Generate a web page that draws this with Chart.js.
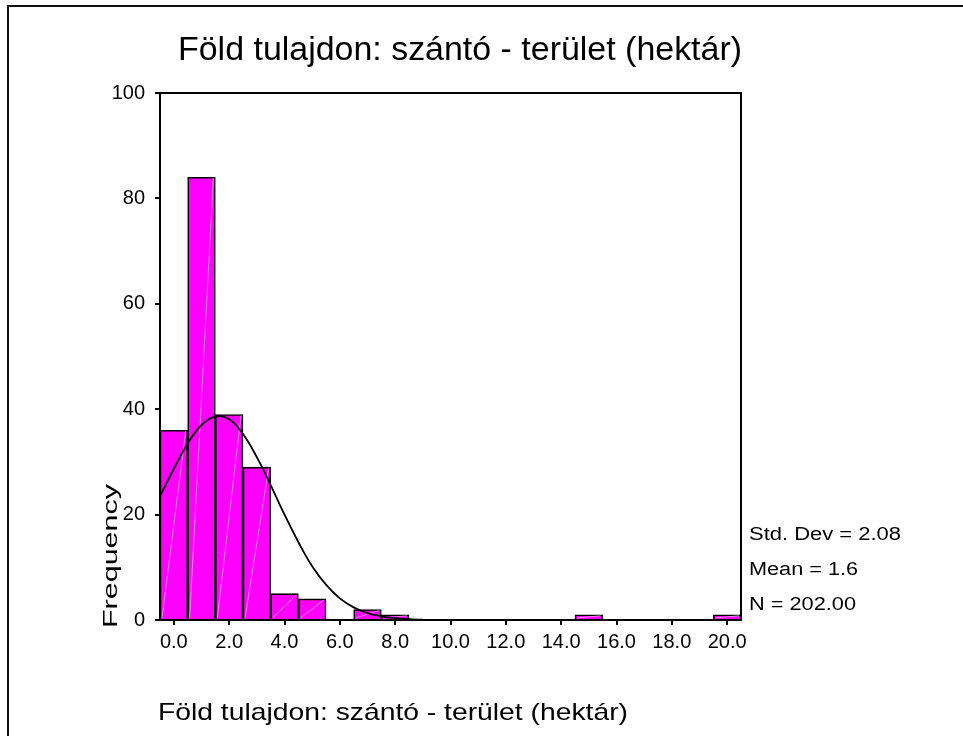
<!DOCTYPE html>
<html>
<head>
<meta charset="utf-8">
<script src="https://cdn.jsdelivr.net/npm/chart.js@4.4.1/dist/chart.umd.min.js"></script>
<style>
    html, body { margin: 0; padding: 0; background: #fff; }
    canvas { display: block; }
</style>
</head>
<body>
<canvas id="histChart" width="963" height="736"></canvas>
<script>
const TITLE = 'Föld tulajdon: szántó - terület (hektár)';
const X_TITLE = 'Föld tulajdon: szántó - terület (hektár)';
const Y_TITLE = 'Frequency';
const STATS = ['Std. Dev = 2.08', 'Mean = 1.6', 'N = 202.00'];

// bin centres (width 1.0) and counts
const binCenters = [0, 1, 2, 3, 4, 5, 7, 8, 15, 20];
const frequencies = [36, 84, 39, 29, 5, 4, 2, 1, 1, 1];

// normal curve
const curveX = [-0.5, 0, 0.5, 1, 1.5, 2, 2.5, 3, 3.5, 4, 4.5, 5, 5.5, 6, 6.5, 7, 7.5, 8, 8.5, 9];
const curveY = [23.5, 28.7, 33.5, 37.0, 38.6, 38.1, 35.3, 30.9, 25.6, 20.0, 14.8, 10.2, 6.7, 4.1, 2.4, 1.3, 0.7, 0.35, 0.15, 0.05];

const xTicks = [0, 2, 4, 6, 8, 10, 12, 14, 16, 18, 20];
const yTicks = [0, 20, 40, 60, 80, 100];

const FONT = '"Liberation Sans", Arial, sans-serif';

// draws text squeezed/stretched to a given width (the source export is not 1:1)
function fitText(ctx, text, x, y, width, align) {
    const w = ctx.measureText(text).width;
    const sx = width / w;
    ctx.save();
    ctx.translate(x, y);
    ctx.scale(sx, 1);
    ctx.textAlign = 'left';
    ctx.fillText(text, align === 'center' ? -w / 2 : 0, 0);
    ctx.restore();
}

const framePlugin = {
    id: 'frame',
    beforeDraw(chart) {
        const ctx = chart.ctx;
        ctx.save();
        ctx.fillStyle = '#fff';
        ctx.fillRect(0, 0, chart.width, chart.height);
        ctx.strokeStyle = '#111';
        ctx.lineWidth = 2;
        ctx.beginPath();
        ctx.moveTo(8, chart.height);
        ctx.lineTo(8, 6);
        ctx.lineTo(chart.width, 6);
        ctx.stroke();
        ctx.restore();
    },
    afterDatasetDraw(chart, args) {
        if (args.index !== 0) return;
        // faint white diagonal inside each bar
        const ctx = chart.ctx;
        ctx.save();
        ctx.strokeStyle = 'rgba(255,255,255,0.5)';
        ctx.lineWidth = 1;
        args.meta.data.forEach(bar => {
            const p = bar.getProps(['x', 'y', 'base', 'width'], true);
            ctx.beginPath();
            ctx.moveTo(p.x - p.width / 2 + 2, p.base - 1);
            ctx.lineTo(p.x + p.width / 2 - 2, p.y + 1);
            ctx.stroke();
        });
        ctx.restore();
    },
    afterDraw(chart) {
        const ctx = chart.ctx;
        const a = chart.chartArea;
        ctx.save();
        ctx.strokeStyle = '#000';
        ctx.lineWidth = 2;
        ctx.strokeRect(a.left, a.top, a.right - a.left, a.bottom - a.top);

        ctx.fillStyle = '#000';
        ctx.textBaseline = 'alphabetic';
        ctx.font = '34px ' + FONT;
        fitText(ctx, TITLE, 460, 60, 564, 'center');

        ctx.font = '24px ' + FONT;
        fitText(ctx, X_TITLE, 158, 720, 470, 'left');

        ctx.save();
        ctx.translate(117, 556);
        ctx.rotate(-Math.PI / 2);
        ctx.font = '21px ' + FONT;
        fitText(ctx, Y_TITLE, 0, 0, 144, 'center');
        ctx.restore();

        ctx.font = '18px ' + FONT;
        [152, 109, 107].forEach((w, i) => fitText(ctx, STATS[i], 749, [540, 575, 610][i], w, 'left'));
        ctx.restore();
    }
};

const ctx = document.getElementById('histChart').getContext('2d');
new Chart(ctx, {
    type: 'bar',
    data: {
        datasets: [{
            type: 'bar',
            data: binCenters.map((c, i) => ({ x: c, y: frequencies[i] })),
            backgroundColor: '#ff00ff',
            borderColor: '#000',
            borderWidth: 1.6,
            barPercentage: 1,
            categoryPercentage: 1,
            order: 2
        }, {
            type: 'line',
            data: curveX.map((x, i) => ({ x: x, y: curveY[i] })),
            borderColor: '#000',
            borderWidth: 1.8,
            pointRadius: 0,
            tension: 0.4,
            fill: false,
            order: 1
        }]
    },
    options: {
        responsive: false,
        devicePixelRatio: 1,
        animation: false,
        layout: { padding: { left: 0, right: 222, top: 93, bottom: 0 } },
        plugins: {
            legend: { display: false },
            tooltip: { enabled: false }
        },
        scales: {
            x: {
                type: 'linear',
                min: -0.5,
                max: 20.5,
                offset: false,
                afterBuildTicks: scale => { scale.ticks = xTicks.map(v => ({ value: v })); },
                afterFit: scale => { scale.height = 116; },
                ticks: {
                    color: '#000',
                    font: { family: FONT, size: 20 },
                    padding: 5,
                    maxRotation: 0,
                    autoSkip: false,
                    callback: v => v.toFixed(1)
                },
                grid: { display: true, offset: false, drawOnChartArea: false, drawTicks: true, tickLength: 5, color: '#000', lineWidth: 2 },
                border: { display: true, color: '#000', width: 2 }
            },
            y: {
                min: 0,
                max: 100,
                afterBuildTicks: scale => { scale.ticks = yTicks.map(v => ({ value: v })); },
                afterFit: scale => { scale.width = 160; },
                ticks: {
                    color: '#000',
                    font: { family: FONT, size: 20 },
                    padding: 10,
                    autoSkip: false
                },
                grid: { display: true, drawOnChartArea: false, drawTicks: true, tickLength: 5, color: '#000', lineWidth: 2 },
                border: { display: true, color: '#000', width: 2 }
            }
        }
    },
    plugins: [framePlugin]
});
</script>
</body>
</html>
